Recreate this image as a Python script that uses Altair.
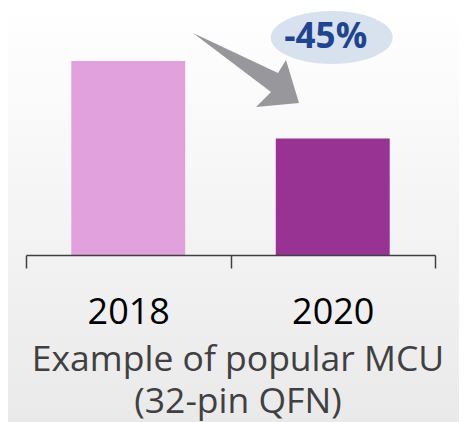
import altair as alt
import pandas as pd

years = ["2018", "2020"]
values = [100, 60]
bar_colors = ["#e0a1dc", "#983394"]
change_label = "-45%"
axis_title = ["Example of popular MCU", "(32-pin QFN)"]

df = pd.DataFrame({"year": years, "value": values})
ann = pd.DataFrame({"year": ["2020"], "value": [112.1], "label": [change_label]})
arrow = pd.DataFrame({"year": ["2020"], "value": [95.3]})

W, H = 409, 247
PL, PR, PT, PB = 18, 24, 0, 175

y_scale = alt.Scale(domain=[0, 127.3], nice=False)
x_scale = alt.Scale(domain=years, paddingInner=0, paddingOuter=0)

bg = alt.Chart(alt.Data(values=[{"a": 1}])).mark_rect(
    color=alt.Gradient(
        gradient="linear",
        stops=[alt.GradientStop(color="#ffffff", offset=0),
               alt.GradientStop(color="#e9e9e9", offset=1)],
        x1=0, x2=0, y1=0, y2=1,
    )
).encode(
    x=alt.value(-PL), x2=alt.value(W + PR), y=alt.value(-PT), y2=alt.value(H + PB)
)

bars = alt.Chart(df).mark_bar(width={"band": 0.557}).encode(
    x=alt.X("year:N", scale=x_scale, axis=alt.Axis(
        title=axis_title, orient="bottom", zindex=1,
        domainColor="#404040", domainWidth=1.5,
        tickBand="extent", tickColor="#404040", tickWidth=1.5, tickSize=13,
        labelFont="Open Sans", labelFontSize=36, labelColor="#000000",
        labelAngle=0, labelBaseline="alphabetic", labelPadding=55,
        titleFont="Open Sans", titleFontSize=35.5, titleFontWeight="normal",
        titleColor="#404040", titleBaseline="alphabetic", titleY=115,
        titleX=211.5, titleAlign="center", titleLineHeight=42.5,
    )),
    y=alt.Y("value:Q", scale=y_scale, axis=None),
    color=alt.Color("year:N", scale=alt.Scale(domain=years, range=bar_colors), legend=None),
)

arrow_path = ("M -2.795 -0.74 L -1.095 0.06 L -0.935 -0.2 L -0.675 0.66 "
              "L -1.535 0.74 L -1.235 0.44 Z")
arrow_mark = alt.Chart(arrow).mark_point(
    shape=arrow_path, size=10000, filled=True, color="#98989c", opacity=1, strokeWidth=0
).encode(x=alt.X("year:N", scale=x_scale), y=alt.Y("value:Q", scale=y_scale))

ellipse_path = "M -1.24 0 A 1.22 0.53 0 1 0 1.20 0 A 1.22 0.53 0 1 0 -1.24 0 Z"
ellipse = alt.Chart(ann).mark_point(
    shape=ellipse_path, size=10000, filled=True, color="#d8e2ef", opacity=1, strokeWidth=0
).encode(x=alt.X("year:N", scale=x_scale), y=alt.Y("value:Q", scale=y_scale))

text = alt.Chart(ann).mark_text(
    font="Open Sans", fontSize=35, fontWeight="bold", color="#1f4591",
    align="center", baseline="middle", dx=-7
).encode(x=alt.X("year:N", scale=x_scale), y=alt.Y("value:Q", scale=y_scale), text="label:N")

chart = alt.layer(bg, bars, arrow_mark, ellipse, text).properties(
    width=W, height=H,
    autosize=alt.AutoSizeParams(type="none"),
    padding={"left": PL, "right": PR, "top": PT, "bottom": PB},
).configure_view(stroke=None).configure(background="#ffffff")

chart.save("out.html", embed_options={"renderer": "svg", "actions": False})
